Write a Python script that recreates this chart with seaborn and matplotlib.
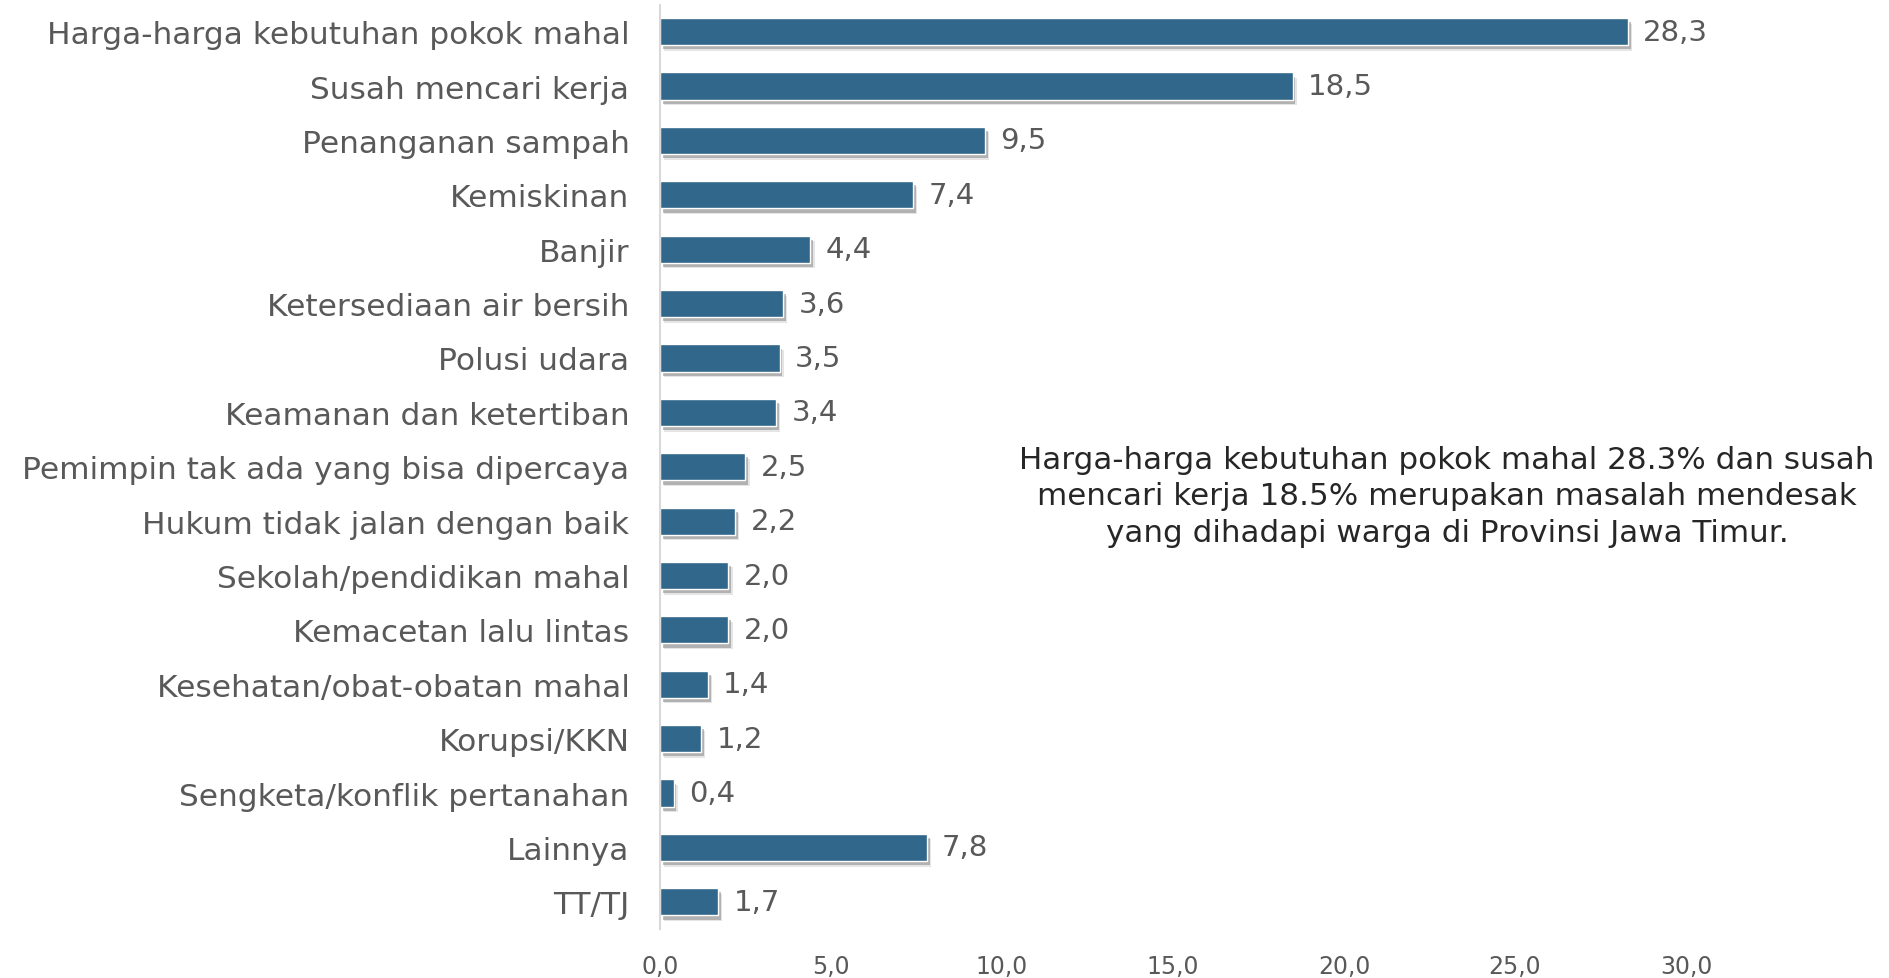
import matplotlib
matplotlib.use("Agg")
import matplotlib.pyplot as plt
import matplotlib.patheffects as pe
import seaborn as sns
import pandas as pd

# data
categories = [
    "Harga-harga kebutuhan pokok mahal",
    "Susah mencari kerja",
    "Penanganan sampah",
    "Kemiskinan",
    "Banjir",
    "Ketersediaan air bersih",
    "Polusi udara",
    "Keamanan dan ketertiban",
    "Pemimpin tak ada yang bisa dipercaya",
    "Hukum tidak jalan dengan baik",
    "Sekolah/pendidikan mahal",
    "Kemacetan lalu lintas",
    "Kesehatan/obat-obatan mahal",
    "Korupsi/KKN",
    "Sengketa/konflik pertanahan",
    "Lainnya",
    "TT/TJ",
]
values = [28.3, 18.5, 9.5, 7.4, 4.4, 3.6, 3.5, 3.4, 2.5, 2.2, 2.0, 2.0, 1.4, 1.2, 0.4, 7.8, 1.7]
x_ticks = [0, 5, 10, 15, 20, 25, 30]
note = ("Harga-harga kebutuhan pokok mahal 28.3% dan susah\n"
        "mencari kerja 18.5% merupakan masalah mendesak\n"
        "yang dihadapi warga di Provinsi Jawa Timur.")

df = pd.DataFrame({"masalah": categories, "persen": values})

sns.set_style("white")
plt.rcParams["font.family"] = ["DejaVu Sans"]

bar_color = "#31678A"
text_gray = "#595959"

fig = plt.figure(figsize=(18.9, 9.79), dpi=100)
ax = fig.add_axes([660 / 1890, 1 - 930 / 979, (1686 - 660) / 1890, (930 - 5.5) / 979])

sns.barplot(data=df, x="persen", y="masalah", orient="h", color=bar_color,
            saturation=1, width=0.5, ax=ax)

# soft drop shadow like the office chart
for bar in ax.patches:
    bar.set_path_effects([
        pe.SimplePatchShadow(offset=(3, -4), shadow_rgbFace="#bfbfbf", alpha=0.4),
        pe.SimplePatchShadow(offset=(2, -3), shadow_rgbFace="#7f7f7f", alpha=0.5),
        pe.Normal(),
    ])

ax.bar_label(ax.containers[0], labels=[f"{v:.1f}".replace(".", ",") for v in values],
             padding=11, fontsize=21, color=text_gray)

ax.set_xlim(0, 30)
ax.set_xticks(x_ticks)
ax.set_xticklabels([f"{t:.1f}".replace(".", ",") for t in x_ticks])
ax.tick_params(axis="x", labelsize=17, labelcolor=text_gray, length=0, pad=18)
ax.tick_params(axis="y", labelsize=22.5, labelcolor=text_gray, length=0, pad=22)
ax.set_xlabel("")
ax.set_ylabel("")

for side in ["top", "right", "bottom"]:
    ax.spines[side].set_visible(False)
ax.spines["left"].set_color("#d9d9d9")
ax.spines["left"].set_linewidth(1.5)

fig.text(1447 / 1890, 1 - 497 / 979, note, ha="center", va="center",
         fontsize=22.3, color="#262626", linespacing=1.32)

fig.savefig("out.png", dpi=100)
plt.close(fig)
